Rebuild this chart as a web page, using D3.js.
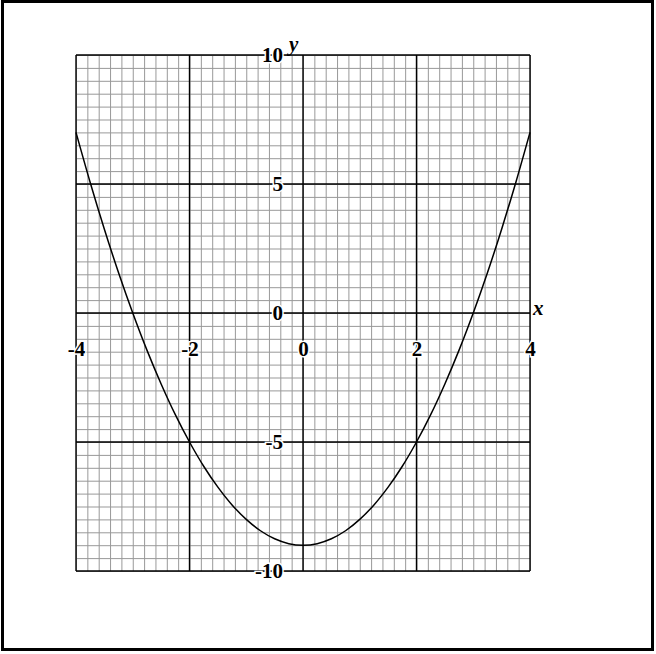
<!DOCTYPE html>
<html>
<head>
<meta charset="utf-8">
<script src="https://cdn.jsdelivr.net/npm/d3@7"></script>
<style>
  body { margin: 0; background: #fff; }
  svg { display: block; }
</style>
</head>
<body>
<div id="wrapper"></div>
<script>
// points
const xValues = [-4, -3.75, -3.5, -3.25, -3, -2.75, -2.5, -2.25, -2, -1.75, -1.5, -1.25, -1, -0.75, -0.5, -0.25,
  0, 0.25, 0.5, 0.75, 1, 1.25, 1.5, 1.75, 2, 2.25, 2.5, 2.75, 3, 3.25, 3.5, 3.75, 4]
const yValues = [7, 5.06, 3.25, 1.56, 0, -1.44, -2.75, -3.94, -5, -5.94, -6.75, -7.44, -8, -8.44, -8.75, -8.94,
  -9, -8.94, -8.75, -8.44, -8, -7.44, -6.75, -5.94, -5, -3.94, -2.75, -1.44, 0, 1.56, 3.25, 5.06, 7]

const xTicks = [-4, -2, 0, 2, 4]
const yTicks = [-10, -5, 0, 5, 10]
const xLabel = "x"
const yLabel = "y"

const dimensions = {
  width: 656,
  height: 654,
  margin: { top: 55, right: 126, bottom: 83, left: 76 },
}
dimensions.boundedWidth = dimensions.width - dimensions.margin.left - dimensions.margin.right
dimensions.boundedHeight = dimensions.height - dimensions.margin.top - dimensions.margin.bottom

const wrapper = d3.select("#wrapper")
  .append("svg")
    .attr("width", dimensions.width)
    .attr("height", dimensions.height)

// outer frame
wrapper.append("rect")
  .attr("x", 2.5)
  .attr("y", 1.5)
  .attr("width", 650)
  .attr("height", 648)
  .attr("fill", "none")
  .attr("stroke", "#000")
  .attr("stroke-width", 3)

const bounds = wrapper.append("g")
  .attr("transform", `translate(${dimensions.margin.left},${dimensions.margin.top})`)

const xScale = d3.scaleLinear()
  .domain([-4, 4])
  .range([0, dimensions.boundedWidth])

const yScale = d3.scaleLinear()
  .domain([-10, 10])
  .range([dimensions.boundedHeight, 0])

// minor grid
bounds.append("g")
  .attr("transform", `translate(0,${dimensions.boundedHeight})`)
  .call(d3.axisBottom(xScale).ticks(40).tickSize(dimensions.boundedHeight).tickFormat(""))
  .call(g => g.select(".domain").remove())
  .call(g => g.selectAll("line").attr("y2", -dimensions.boundedHeight).attr("stroke", "#999"))

bounds.append("g")
  .call(d3.axisLeft(yScale).ticks(40).tickSize(-dimensions.boundedWidth).tickFormat(""))
  .call(g => g.select(".domain").remove())
  .call(g => g.selectAll("line").attr("stroke", "#999"))

// major grid
bounds.selectAll(".major-x")
  .data(xTicks)
  .join("line")
    .attr("class", "major-x")
    .attr("x1", d => xScale(d))
    .attr("x2", d => xScale(d))
    .attr("y1", 0)
    .attr("y2", dimensions.boundedHeight)
    .attr("stroke", "#000")
    .attr("stroke-width", 1.4)

bounds.selectAll(".major-y")
  .data(yTicks)
  .join("line")
    .attr("class", "major-y")
    .attr("x1", 0)
    .attr("x2", dimensions.boundedWidth)
    .attr("y1", d => yScale(d))
    .attr("y2", d => yScale(d))
    .attr("stroke", "#000")
    .attr("stroke-width", 1.4)

// curve
const points = xValues.map((x, i) => [x, yValues[i]])
const lineGenerator = d3.line()
  .x(d => xScale(d[0]))
  .y(d => yScale(d[1]))
  .curve(d3.curveCatmullRom)

bounds.append("path")
  .datum(points)
  .attr("d", lineGenerator)
  .attr("fill", "none")
  .attr("stroke", "#000")
  .attr("stroke-width", 1.5)

// tick labels (plain hyphen for negatives, like the original)
const labelStyle = g => g.selectAll("text")
  .style("font-family", "'Liberation Serif', serif")
  .style("font-weight", "bold")
  .style("font-size", "21px")
  .attr("fill", "#000")
  .attr("stroke", "#fff")
  .attr("stroke-width", 3)
  .attr("paint-order", "stroke")

bounds.append("g")
  .attr("transform", `translate(0,${yScale(0)})`)
  .call(d3.axisBottom(xScale).tickValues(xTicks).tickSize(0).tickPadding(28).tickFormat(d => String(d)))
  .call(g => g.select(".domain").remove())
  .call(labelStyle)

bounds.append("g")
  .attr("transform", `translate(${xScale(0)},0)`)
  .call(d3.axisLeft(yScale).tickValues(yTicks).tickSize(0).tickPadding(20).tickFormat(d => String(d)))
  .call(g => g.select(".domain").remove())
  .call(labelStyle)

// axis names
bounds.append("text")
  .attr("x", dimensions.boundedWidth + 3)
  .attr("y", yScale(0) + 2)
  .style("font-family", "'Liberation Serif', serif")
  .style("font-weight", "bold")
  .style("font-style", "italic")
  .style("font-size", "21px")
  .text(xLabel)

bounds.append("text")
  .attr("x", xScale(0) - 14)
  .attr("y", -4)
  .style("font-family", "'Liberation Serif', serif")
  .style("font-weight", "bold")
  .style("font-style", "italic")
  .style("font-size", "21px")
  .text(yLabel)
</script>
</body>
</html>
